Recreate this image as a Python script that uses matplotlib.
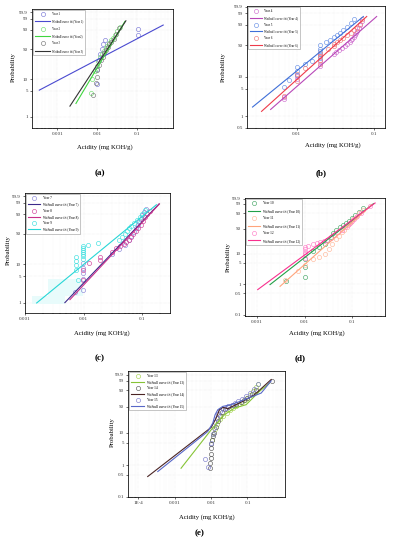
import numpy as np
import matplotlib.pyplot as plt
from matplotlib.ticker import FixedLocator, LogLocator, NullFormatter
from matplotlib.lines import Line2D

plt.rcParams['font.family'] = ['Liberation Serif', 'DejaVu Serif']

# ---------------- panel (a) ----------------
y1_acid = [0.0095, 0.0100, 0.0108, 0.0115, 0.0127, 0.0135, 0.0154, 0.105, 0.105]
y1_prob = [7.5, 18, 29, 40, 50, 61, 71, 82, 91]
fit1_acid = [3.5e-4, 0.443]
fit1_prob = [5.2, 95.6]

y2_acid = [0.0068, 0.0075, 0.0085, 0.0095, 0.0105, 0.0118, 0.0130, 0.0145,
           0.0160, 0.0175, 0.0195, 0.0215, 0.0240, 0.0270, 0.0310, 0.0360]
y2_prob = [4.3, 10, 16, 22, 28, 34, 40, 46, 52, 58, 64, 70, 76, 82, 88, 94]
fit2_acid = [0.0029, 0.0487]
fit2_prob = [2.3, 98.0]

y3_acid = [0.0079, 0.0090, 0.0095, 0.0100, 0.0110, 0.0122, 0.0135, 0.0150,
           0.0165, 0.0180, 0.0200, 0.0225, 0.0255, 0.0290, 0.0340]
y3_prob = [3.8, 7.8, 11.6, 17, 23, 29, 35, 42, 48, 54, 61, 67, 74, 83, 92]
fit3_acid = [0.00205, 0.0516]
fit3_prob = [1.95, 98.3]

# ---------------- panel (b) ----------------
y4_acid = [0.0068, 0.0068, 0.0100, 0.0100, 0.0200, 0.0200, 0.0200, 0.0300,
           0.0320, 0.0350, 0.0380, 0.0420, 0.0450, 0.0480, 0.0500, 0.0520,
           0.0540, 0.0560, 0.0580, 0.0600, 0.0630, 0.0660, 0.0700]
y4_prob = [2.7, 3.2, 8.7, 10.6, 18, 24, 30, 34, 37, 40, 44, 48, 52, 56, 60,
           64, 68, 72, 76, 80, 85, 90, 95]
fit4_acid = [0.00463, 0.107]
fit4_prob = [1.5, 97.8]

y5_acid = [0.0068, 0.0080, 0.0100, 0.0100, 0.0100, 0.0130, 0.0160, 0.0200,
           0.0200, 0.0200, 0.0200, 0.0200, 0.0240, 0.0270, 0.0300, 0.0330,
           0.0360, 0.0400, 0.0450, 0.0500, 0.0550]
y5_prob = [5.5, 8.5, 11, 14, 17, 20, 24, 28, 33, 38, 43, 50, 56, 62, 67, 72,
           77, 82, 87, 92, 96]
fit5_acid = [0.00271, 0.0722]
fit5_prob = [1.73, 97.8]

y6_acid = [0.0068, 0.0100, 0.0100, 0.0130, 0.0200, 0.0200, 0.0200, 0.0200,
           0.0250, 0.0300, 0.0300, 0.0330, 0.0360, 0.0400, 0.0450, 0.0500,
           0.0550, 0.0600, 0.0650, 0.0700]
y6_prob = [3.4, 8, 12, 16, 20, 25, 30, 35, 42, 48, 53, 57, 61, 66, 71, 76,
           81, 86, 91, 96]
fit6_acid = [0.00354, 0.0797]
fit6_prob = [1.34, 97.8]

# ---------------- panel (c) ----------------
y7_acid = [0.0071, 0.0099, 0.0099, 0.0099, 0.0099, 0.0099, 0.030, 0.040,
           0.050, 0.058, 0.065, 0.072, 0.078, 0.083, 0.088, 0.093, 0.098,
           0.105, 0.115]
y7_prob = [1.9, 2.2, 4.3, 6, 8, 10.6, 18, 24, 30, 38, 46, 54, 62, 70, 77,
           83, 89, 93, 96]
fit7_acid = [0.00478, 0.192]
fit7_prob = [1.0, 98.7]

y8_acid = [0.0097, 0.0097, 0.0124, 0.0188, 0.0188, 0.030, 0.036, 0.042,
           0.048, 0.053, 0.058, 0.064, 0.070, 0.077, 0.085, 0.093, 0.102,
           0.112, 0.122, 0.133]
y8_prob = [4, 7, 10.8, 12.8, 15.5, 20, 25, 28, 31, 34, 38, 43, 49, 55, 62,
           70, 78, 85, 90, 94]
fit8_acid = [0.00582, 0.195]
fit8_prob = [1.2, 98.7]

y9_acid = [0.0074, 0.0074, 0.0074, 0.0074, 0.0080, 0.0096, 0.0096, 0.0096,
           0.0096, 0.0096, 0.0096, 0.0096, 0.0119, 0.0176, 0.040, 0.045,
           0.050, 0.055, 0.060, 0.065, 0.072, 0.080, 0.090, 0.100, 0.110]
y9_prob = [7, 9.5, 12.5, 15.5, 4, 14, 16.5, 18.5, 20.5, 22.5, 25, 28, 30,
           32, 38, 44, 50, 56, 62, 68, 74, 80, 86, 91, 95]
fit9_acid = [0.00158, 0.173]
fit9_prob = [0.98, 98.4]
band9_acid = [0.0013, 0.0025, 0.0048, 0.0098]
band9_lo = [0.9, 0.9, 1.47, 1.47]
band9_hi = [1.47, 4.1, 4.1, 4.1]

# ---------------- panel (d) ----------------
y10_acid = [0.0041, 0.0100, 0.0100, 0.0100, 0.0150, 0.0200, 0.0270, 0.0300,
            0.0350, 0.0400, 0.0450, 0.0550, 0.0650, 0.0750, 0.0850, 0.100,
            0.115, 0.135, 0.170]
y10_prob = [1.3, 1.8, 3.6, 6.5, 12, 16, 19, 25, 32, 40, 48, 54, 60, 66, 72,
            79, 86, 92, 97]
fit10_acid = [0.0019, 0.275]
fit10_prob = [0.98, 99.1]

y11_acid = [0.0039, 0.0074, 0.0100, 0.0150, 0.0200, 0.0268, 0.0320, 0.0380,
            0.0450, 0.0520, 0.0600, 0.0680, 0.0760, 0.0850, 0.0950, 0.1050,
            0.1200, 0.1400, 0.1700]
y11_prob = [1.4, 2.7, 4.2, 6.5, 8, 10, 14, 20, 27, 34, 41, 48, 55, 62, 69,
            76, 83, 90, 95]
fit11_acid = [0.00308, 0.254]
fit11_prob = [0.86, 98.7]

y12_acid = [0.0100, 0.0100, 0.0100, 0.0100, 0.0100, 0.0120, 0.0150, 0.0180,
            0.0210, 0.0250, 0.0300, 0.0350, 0.0420, 0.0500, 0.0600, 0.0700,
            0.0800, 0.0900, 0.1000, 0.1100, 0.1250, 0.1500, 0.2300]
y12_prob = [7.2, 9.5, 11.5, 13.5, 15.5, 17.5, 19.5, 21, 22.5, 24, 26, 30,
            36, 42, 48, 54, 60, 66, 72, 78, 84, 90, 98]
fit12_acid = [0.00105, 0.298]
fit12_prob = [0.67, 99.3]

# ---------------- panel (e) ----------------
y13_acid = [0.0105, 0.0115, 0.0130, 0.0150, 0.0180, 0.0220, 0.0270, 0.0330,
            0.0400, 0.0480, 0.0580, 0.0700, 0.0850, 0.1000, 0.1200, 0.1450,
            0.1700, 0.2000]
y13_prob = [6, 9, 13, 18, 24, 30, 36, 42, 47, 52, 57, 62, 68, 74, 81, 88,
            94, 97]
fit13_acid = [0.00151, 0.00482, 0.0101, 0.0234, 0.0441, 0.092, 0.214, 0.403]
fit13_prob = [0.8, 4.3, 12.2, 32.2, 46.6, 55.2, 87.9, 97.9]

y14_acid = [0.0092, 0.0095, 0.0097, 0.0100, 0.0100, 0.0102, 0.0105, 0.0110,
            0.0124, 0.0140, 0.0160, 0.0180, 0.0200, 0.0240, 0.0300, 0.0400,
            0.0500, 0.0650, 0.0800, 0.1000, 0.1300, 0.1700, 0.4800]
y14_prob = [0.8, 1.15, 1.65, 2.2, 3.4, 4.5, 6.1, 7.7, 9.7, 15, 22, 30, 38,
            45, 50, 54, 58, 63, 68, 74, 82, 90, 99]
fit14_acid = [1.84e-4, 0.0101, 0.01384, 0.01706, 0.0211, 0.0289, 0.0441,
              0.0746, 0.156, 0.447]
fit14_prob = [0.44, 14.3, 26.2, 42.7, 48.5, 45.1, 53.4, 63.9, 80.9, 99.3]

y15_acid = [0.0068, 0.0085, 0.0100, 0.0110, 0.0120, 0.0130, 0.0145, 0.0160,
            0.0180, 0.0210, 0.0250, 0.0300, 0.0370, 0.0450, 0.0550, 0.0700,
            0.0900, 0.1150, 0.1500, 0.2000]
y15_prob = [1.6, 0.85, 5, 9, 14, 20, 27, 33, 39, 44, 48, 52, 55, 59, 64, 70,
            77, 85, 92, 97]
fit15_acid = [3.47e-4, 0.00817, 0.0112, 0.01297, 0.01538, 0.0211, 0.0357,
              0.083, 0.238, 0.447]
fit15_prob = [0.63, 10.9, 19.1, 32.2, 42.7, 50.8, 55.2, 68.4, 84.5, 98.9]


def wb_fwd(p):
    p = np.clip(np.asarray(p, dtype=float), 1e-9, 100 - 1e-9)
    return np.log(-np.log(1 - p / 100.0))


def wb_inv(w):
    return 100.0 * (1 - np.exp(-np.exp(np.asarray(w, dtype=float))))


W, H = 398, 550
fig = plt.figure(figsize=(W / 100, H / 100), dpi=100)


def add_ax(l, t, r, b):
    return fig.add_axes([l / W, 1 - b / H, (r - l) / W, (b - t) / H])


def ftext(x, y, s, **kw):
    fig.text(x / W, 1 - y / H, s, ha='center', va='center', **kw)


def draw_panel(ax, series, xlim, ylim, yticks, xticks, xlabels, leg):
    ax.set_xscale('log')
    ax.set_yscale('function', functions=(wb_fwd, wb_inv))
    ax.set_xlim(*xlim)
    ax.set_ylim(*ylim)
    handles = []
    for name, acid, prob, mcol, fname, facid, fprob, lcol in series:
        ax.plot(acid, prob, 'o', ms=3.0, mfc='none', mec=mcol, mew=0.45,
                zorder=3)
        ax.plot(facid, fprob, '-', color=lcol, lw=0.8, zorder=4)
        handles.append(Line2D([], [], ls='none', marker='o', ms=3.0,
                              mfc='none', mec=mcol, mew=0.45, label=name))
        handles.append(Line2D([], [], color=lcol, lw=0.8, label=fname))
    ax.yaxis.set_major_locator(FixedLocator(yticks))
    ax.set_yticklabels([('%g' % v) for v in yticks])
    ax.yaxis.set_minor_locator(FixedLocator([]))
    ax.xaxis.set_major_locator(FixedLocator(xticks))
    ax.set_xticklabels(xlabels)
    ax.xaxis.set_minor_locator(LogLocator(base=10, subs=np.arange(2, 10)))
    ax.xaxis.set_minor_formatter(NullFormatter())
    ax.grid(True, which='major', color='#e4e4e4', lw=0.35, ls=':')
    ax.grid(True, which='minor', axis='x', color='#ececec', lw=0.3, ls=':')
    ax.set_axisbelow(True)
    ax.tick_params(which='major', direction='out', length=1.6, width=0.4,
                   labelsize=3.6, pad=1.2, labelcolor='#333333')
    ax.tick_params(which='minor', direction='out', length=0.9, width=0.35)
    for s in ax.spines.values():
        s.set_linewidth(0.55)
    fs, ls, hl = leg
    lg = ax.legend(handles=handles, loc='upper left', bbox_to_anchor=(0, 1),
                   fontsize=fs, labelspacing=ls, handlelength=hl,
                   handletextpad=0.6, borderaxespad=0.35, borderpad=0.6,
                   frameon=True, fancybox=False, framealpha=1)
    lg.get_frame().set_edgecolor('#9a9a9a')
    lg.get_frame().set_linewidth(0.4)
    lg.set_zorder(6)


yt_a = [1, 5, 10, 50, 90, 99, 99.9]
yt_b = [0.5, 1, 5, 10, 50, 90, 99, 99.9]
yt_d = [0.1, 0.5, 1, 5, 10, 50, 90, 99, 99.9]

# (a)
ax = add_ax(32, 9, 173, 128)
draw_panel(ax, [
    ('Year 1', y1_acid, y1_prob, '#7a78d6', 'Weibull curve fit (Year 1)', fit1_acid, fit1_prob, '#4a4ad0'),
    ('Year 2', y2_acid, y2_prob, '#6fe06f', 'Weibull curve fit (Year2)', fit2_acid, fit2_prob, '#3ed63e'),
    ('Year 3', y3_acid, y3_prob, '#7a7a7a', 'Weibull curve fit (Year 3)', fit3_acid, fit3_prob, '#333333'),
], (2.3e-4, 0.78), (0.5, 99.98), yt_a, [0.001, 0.01, 0.1],
    ['0.001', '0.01', '0.1'], (2.2, 1.1, 5.0))
ftext(105, 147, 'Acidity (mg KOH/g)', fontsize=4.8)
ftext(13, 67, 'Probability', fontsize=4.8, rotation=90)
ftext(100, 173, '(a)', fontsize=6.5, fontweight='bold')

# (b)
ax = add_ax(247, 6, 385, 128)
draw_panel(ax, [
    ('Year 4', y4_acid, y4_prob, '#d070d0', 'Weibull curve fit (Year 4)', fit4_acid, fit4_prob, '#b848b8'),
    ('Year 5', y5_acid, y5_prob, '#6a92e6', 'Weibull curve fit (Year 5)', fit5_acid, fit5_prob, '#3f6fd8'),
    ('Year 6', y6_acid, y6_prob, '#f07a7a', 'Weibull curve fit (Year 6)', fit6_acid, fit6_prob, '#ee3a4a'),
], (0.0023, 0.137), (0.5, 99.92), yt_b, [0.01, 0.1],
    ['0.01', '0.1'], (2.35, 0.85, 3.6))
ftext(333, 145, 'Acidity (mg KOH/g)', fontsize=4.8)
ftext(223, 67, 'Probability', fontsize=4.8, rotation=90)
ftext(321, 173, '(b)', fontsize=6.5, fontweight='bold')

# (c)
ax = add_ax(25, 193, 170, 313)
ax.fill_between(band9_acid, band9_lo, band9_hi, step='post', color='#e8fbfb',
                lw=0, zorder=1)
draw_panel(ax, [
    ('Year 7', y7_acid, y7_prob, '#8a86d8', 'Weibull curve fit (Year 7)', fit7_acid, fit7_prob, '#3c2a8a'),
    ('Year 8', y8_acid, y8_prob, '#d2409a', 'Weibull curve fit (Year 8)', fit8_acid, fit8_prob, '#c8308a'),
    ('Year 9', y9_acid, y9_prob, '#3ee0e0', 'Weibull curve fit (Year 9)', fit9_acid, fit9_prob, '#28d6d6'),
], (0.001, 0.295), (0.53, 99.98), yt_a, [0.001, 0.01, 0.1],
    ['0.001', '0.01', '0.1'], (2.5, 0.65, 3.5))
ftext(102, 333, 'Acidity (mg KOH/g)', fontsize=4.8)
ftext(8, 250, 'Probability', fontsize=4.8, rotation=90)
ftext(100, 358, '(c)', fontsize=6.5, fontweight='bold')

# (d)
ax = add_ax(245, 198, 385, 316)
draw_panel(ax, [
    ('Year 10', y10_acid, y10_prob, '#48a868', 'Weibull curve fit (Year 10)', fit10_acid, fit10_prob, '#22a048'),
    ('Year 11', y11_acid, y11_prob, '#ffb89a', 'Weibull curve fit (Year 11)', fit11_acid, fit11_prob, '#ffa47c'),
    ('Year 12', y12_acid, y12_prob, '#ff80c8', 'Weibull curve fit (Year 12)', fit12_acid, fit12_prob, '#f8308e'),
], (5.7e-4, 0.48), (0.09, 99.93), yt_d, [0.001, 0.01, 0.1],
    ['0.001', '0.01', '0.1'], (2.5, 1.0, 3.5))
ftext(317, 333, 'Acidity (mg KOH/g)', fontsize=4.8)
ftext(228, 257, 'Probability', fontsize=4.8, rotation=90)
ftext(300, 358, '(d)', fontsize=6.5, fontweight='bold')

# (e)
ax = add_ax(128, 371, 285, 497)
draw_panel(ax, [
    ('Year 13', y13_acid, y13_prob, '#a6d450', 'Weibull curve fit (Year 13)', fit13_acid, fit13_prob, '#86c436'),
    ('Year 14', y14_acid, y14_prob, '#5a5a5a', 'Weibull curve fit (Year 14)', fit14_acid, fit14_prob, '#4a2424'),
    ('Year 15', y15_acid, y15_prob, '#7c7ccc', 'Weibull curve fit (Year 15)', fit15_acid, fit15_prob, '#5868c8'),
], (5.3e-5, 1.07), (0.1, 99.99), yt_d, [1e-4, 0.001, 0.01, 0.1],
    ['1E-4', '0.001', '0.01', '0.1'], (2.5, 0.55, 3.8))
ftext(207, 517, 'Acidity (mg KOH/g)', fontsize=4.8)
ftext(112, 432, 'Probability', fontsize=4.8, rotation=90)
ftext(200, 533, '(e)', fontsize=6.5, fontweight='bold')

fig.savefig('out.png', dpi=100)
